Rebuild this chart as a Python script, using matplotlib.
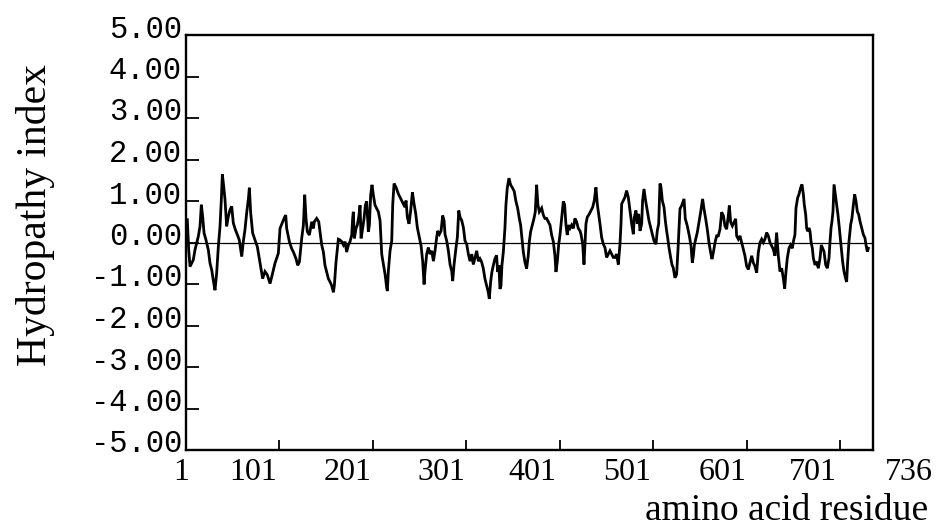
import matplotlib
matplotlib.use("Agg")
import matplotlib.pyplot as plt
from matplotlib.transforms import ScaledTranslation

# ---- data ----
residues = [
    2.4, 3.9, 5.3, 7.1, 8.8, 10.6, 12.4, 14.2, 16.0, 17.4, 18.8, 20.3, 22.4, 24.9, 26.7, 28.5, 30.2, 32.0,
    33.8, 35.6, 37.4, 38.8, 39.9, 41.3, 42.7, 44.5, 46.3, 48.1, 49.9, 51.6, 53.8, 55.9, 58.0, 60.6, 62.3,
    64.1, 65.9, 67.7, 68.8, 70.2, 72.3, 74.8, 77.3, 80.2, 83.0, 85.5, 88.0, 90.9, 92.7, 96.2, 99.8,
    101.6, 105.9, 107.7, 108.7, 111.6, 114.1, 115.9, 118.7, 120.5, 122.3, 123.7, 124.8, 126.6, 128.0, 129.4,
    130.8, 133.0, 135.5, 137.3, 138.3, 140.8, 143.0, 144.4, 146.2, 148.0, 149.7, 151.5, 153.3, 155.1, 156.9,
    158.7, 159.7, 161.5, 162.9, 164.0, 165.8, 167.6, 169.4, 171.1, 172.9, 174.7, 176.5, 178.3, 179.3, 180.0,
    181.1, 182.9, 184.3, 186.1, 187.2, 188.3, 190.0, 191.5, 192.9, 194.3, 196.1, 197.2, 198.6, 200.0, 201.4,
    203.2, 205.0, 206.8,
    208.6, 210.4, 212.2, 214.0, 215.7, 216.4, 217.5, 219.3, 221.1, 222.2, 223.6, 225.7, 228.2, 230.0, 231.8,
    233.6, 235.3, 236.4, 237.8, 239.6, 241.4, 243.2, 245.0, 246.8, 248.5, 250.7, 252.5, 254.2, 255.7, 256.7,
    258.5, 260.3, 262.1, 263.9, 265.7, 267.4, 269.2, 270.3, 272.1, 273.9, 275.6, 277.1, 278.1, 279.9, 281.7,
    283.5, 285.3, 286.3, 287.8, 289.9, 291.3, 292.8, 294.2, 296.0, 297.8, 299.5, 301.3, 303.1, 304.9, 306.7,
    308.4, 310.2, 312.0, 313.8,
    315.5, 317.3, 319.1, 320.8, 322.6, 324.4, 325.5, 326.9, 328.3, 329.8, 331.5, 333.3, 334.4, 335.8, 336.9,
    338.0, 339.0, 340.5, 342.2, 343.3, 344.7, 346.5, 348.3, 350.4, 352.2, 354.0, 355.8, 357.6, 359.0, 360.4,
    361.9, 363.6, 365.4, 367.2, 368.3, 369.7, 371.5, 373.3, 374.7, 376.1, 377.5, 379.0, 381.5, 383.3, 385.0,
    386.8, 388.6, 390.4, 392.2, 394.0, 395.7, 396.8, 398.2, 399.7, 401.1, 402.2, 403.6, 404.7, 406.1, 407.5,
    408.9, 410.0, 411.8, 413.6, 415.4, 417.1, 418.9, 420.7,
    422.5, 423.6, 425.4, 426.8, 427.8, 428.9, 430.3, 432.5, 434.3, 436.1, 437.8, 439.6, 441.0, 442.5, 443.9,
    445.7, 447.5, 449.2, 451.0, 452.8, 454.6, 456.4, 458.2, 459.9, 461.7, 463.5, 465.3, 466.4, 467.1, 468.9,
    470.6, 472.4, 474.2, 476.0, 477.8, 479.6, 480.6, 482.4, 483.8, 485.3, 486.7, 488.5, 489.5, 491.0, 492.7,
    494.5, 496.3, 498.1, 499.9, 501.7, 503.8, 505.2, 506.7, 508.1, 509.2, 510.6, 512.4, 513.8, 515.2, 516.3,
    517.7, 519.5, 520.9, 522.3, 524.1, 525.9, 527.3,
    529.5, 531.3, 533.8, 535.2, 537.3, 539.5, 541.3, 542.7, 543.8, 544.8, 546.3, 548.0, 549.8, 551.6, 553.7,
    555.2, 557.0, 558.7, 560.5, 562.3, 563.7, 565.2, 567.0, 568.7, 570.5, 572.3, 574.1, 575.9, 577.6, 579.4,
    581.2, 582.3, 583.7, 585.5, 587.3, 589.1, 590.1, 591.9, 593.7, 595.5, 597.3, 599.0, 600.8, 602.6, 604.4,
    606.2, 608.0, 609.7, 611.5, 613.3, 615.1, 616.9, 618.7, 620.4, 622.2, 624.0, 625.8, 627.6, 629.3, 631.1,
    632.9, 634.7,
    636.5, 638.3, 640.1, 641.5, 642.9, 644.3, 646.1, 647.9, 649.7, 650.8, 652.5, 653.6, 655.4, 656.8, 658.6,
    660.0, 661.5, 662.5, 664.0, 665.0, 666.1, 667.5, 668.6, 669.7, 671.1, 672.2, 674.0, 675.7, 677.5, 679.3,
    680.7, 682.1, 683.6, 685.4, 687.1, 688.9, 690.0, 691.1, 692.1, 693.2, 694.3, 695.7, 697.1, 698.5, 700.0,
    701.0, 702.5, 703.5, 705.0, 706.7, 707.8, 708.9, 710.3, 712.1, 713.5, 715.0, 716.4, 717.8, 719.2, 720.7,
    722.1, 723.9, 725.7, 727.4, 728.5, 729.9, 731.0,
]

hydropathy = [
    0.55, -0.18, -0.58, -0.50, -0.42, -0.18, -0.02, 0.15, 0.39, 0.91, 0.63, 0.23, 0.06, -0.18, -0.50, -0.66, -0.91, -1.15,
    -0.74, -0.10, 0.39, 1.04, 1.64, 1.36, 1.04, 0.39, 0.63, 0.79, 0.87, 0.47, 0.31, 0.19, 0.06, -0.34, 0.02,
    0.31, 0.71, 1.04, 1.32, 0.71, 0.23, 0.06, -0.10, -0.50, -0.87, -0.70, -0.78, -0.99, -0.83, -0.50, -0.26,
    0.34, 0.58, 0.66, 0.34, 0.02, -0.15, -0.23, -0.39, -0.55, -0.47, -0.15, 0.10, 0.42, 1.15, 0.58,
    0.26, 0.18, 0.50, 0.34, 0.50, 0.58, 0.50, 0.26, -0.06, -0.23, -0.55, -0.71, -0.87, -0.95, -1.04,
    -1.20, -1.04, -0.47, -0.15, 0.08, 0.06, 0.02, -0.06, 0.02, -0.23, -0.06, 0.02, 0.18, 0.58, 0.74,
    0.10, 0.34, 0.42, 0.66, 0.90, 0.10, 0.34, 0.58, 0.90, 0.99, 0.26, 0.42, 1.15, 1.39, 1.15,
    0.90, 0.82, 0.74,
    0.53, -0.28, -0.53, -0.77, -1.09, -1.17, -0.69, -0.20, 0.04, 0.93, 1.42, 1.33, 1.17, 1.09, 1.01,
    0.93, 0.85, 1.01, 0.61, 0.45, 0.77, 1.21, 0.93, 0.69, 0.36, 0.12, -0.08, -0.45, -1.01, -0.69,
    -0.28, -0.12, -0.28, -0.20, -0.45, -0.20, 0.12, 0.28, 0.20, 0.28, 0.65, 0.53, 0.20, 0.04, -0.20,
    -0.53, -0.69, -0.93, -0.53, -0.12, 0.12, 0.77, 0.61, 0.53, 0.36, 0.04, -0.04, -0.28, -0.45, -0.28,
    -0.53, -0.36, -0.20, -0.45,
    -0.39, -0.47, -0.63, -0.87, -1.04, -1.20, -1.36, -0.95, -0.71, -0.55, -0.39, -0.31, -0.71, -0.55, -1.12,
    -1.04, -0.55, -0.23, 0.34, 0.91, 1.31, 1.55, 1.39, 1.31, 1.23, 0.99, 0.83, 0.58, 0.42, 0.10,
    -0.23, -0.47, -0.63, -0.31, 0.02, 0.26, 0.42, 0.58, 0.74, 1.39, 0.91, 0.74, 0.83, 0.66, 0.58,
    0.58, 0.50, 0.42, 0.18, 0.02, -0.31, -0.71, -0.47, -0.06, 0.18, 0.42, 0.74, 0.99, 0.91, 0.42,
    0.18, 0.42, 0.34, 0.42, 0.34, 0.58, 0.50, 0.34,
    0.28, 0.20, -0.04, -0.53, -0.04, 0.45, 0.61, 0.69, 0.77, 0.85, 1.01, 1.33, 0.93, 0.69, 0.45,
    0.12, -0.04, -0.12, -0.36, -0.28, -0.20, -0.28, -0.36, -0.36, -0.28, -0.53, -0.04, 0.45, 0.93, 1.01,
    1.09, 1.25, 1.09, 0.77, 0.45, 0.20, 0.61, 0.77, 0.45, 0.69, 0.28, 0.45, 1.01, 1.29, 1.01,
    0.77, 0.53, 0.36, 0.20, 0.04, -0.04, 0.28, 0.45, 1.42, 1.33, 1.01, 0.85, 0.53, 0.28, 0.12,
    -0.12, -0.36, -0.53, -0.61, -0.85, -0.77, -0.20,
    0.81, 0.89, 1.05, 0.57, 0.40, 0.16, -0.08, -0.49, -0.32, -0.08, 0.08, 0.24, 0.49, 0.73, 1.05,
    0.81, 0.57, 0.32, 0.00, -0.24, -0.40, -0.24, 0.00, 0.16, 0.16, 0.32, 0.73, 0.65, 0.40, 0.32,
    0.65, 0.89, 0.49, 0.40, 0.49, 0.57, 0.16, 0.08, 0.16, 0.00, -0.16, -0.32, -0.57, -0.65, -0.49,
    -0.32, -0.49, -0.57, -0.73, -0.24, 0.00, 0.08, 0.00, 0.08, 0.24, 0.16, 0.00, -0.08, -0.16, -0.32,
    0.24, -0.32,
    -0.70, -0.62, -0.87, -1.11, -0.70, -0.38, -0.14, -0.06, -0.14, 0.02, 0.19, 0.83, 1.08, 1.16, 1.32,
    1.40, 1.16, 0.91, 0.67, 0.35, 0.27, 0.35, 0.27, 0.02, -0.14, -0.38, -0.54, -0.46, -0.62, -0.38,
    -0.06, -0.14, -0.22, -0.54, -0.62, -0.38, 0.02, 0.35, 0.51, 0.75, 1.40, 1.16, 0.91, 0.67, 0.35,
    0.11, -0.22, -0.46, -0.70, -0.87, -0.95, -0.46, 0.02, 0.43, 0.59, 0.91, 1.16, 1.00, 0.75, 0.67,
    0.51, 0.35, 0.19, 0.11, -0.06, -0.22, -0.14,
]

x_ticks = [1, 101, 201, 301, 401, 501, 601, 701, 736]
x_tick_labels = ["1", "101", "201", "301", "401", "501", "601", "701", "736"]
y_ticks = [-5, -4, -3, -2, -1, 0, 1, 2, 3, 4, 5]
y_tick_labels = ["-5.00", "-4.00", "-3.00", "-2.00", "-1.00", "0.00",
                 "1.00", "2.00", "3.00", "4.00", "5.00"]
x_title = "amino acid residue"
y_title = "Hydropathy index"

# ---- figure ----
fig = plt.figure(figsize=(9.36, 5.29), dpi=100)
fig.patch.set_facecolor("white")
ax = fig.add_axes([186 / 936, 1 - 450 / 529, 687 / 936, 415 / 529])

ax.plot(residues, hydropathy, color="black", lw=2.0, solid_joinstyle="miter")
ax.axhline(0, color="black", lw=0.9)

ax.set_xlim(1, 736)
ax.set_ylim(-5, 5)

for s in ax.spines.values():
    s.set_linewidth(1.7)

ax.set_xticks(x_ticks)
ax.set_xticklabels(x_tick_labels, fontfamily="Liberation Serif", fontsize=23)
ax.set_yticks(y_ticks)
ax.set_yticklabels(y_tick_labels, fontfamily="Liberation Mono", fontsize=22)
ax.tick_params(axis="x", direction="in", length=7, width=1.3, pad=6)
ax.tick_params(axis="y", direction="in", length=9, width=1.3, pad=3)

# tick labels in the original sit a little off their ticks
x_offsets_px = [-5, -26, -25, -25, -28, -26, -24, -27, 36]
for lab, dx in zip(ax.get_xticklabels(), x_offsets_px):
    lab.set_transform(lab.get_transform() + ScaledTranslation(dx / 100, 0, fig.dpi_scale_trans))
for lab in ax.get_yticklabels():
    lab.set_transform(lab.get_transform() + ScaledTranslation(0, 9 / 100, fig.dpi_scale_trans))

fig.text(36 / 936, 1 - 215 / 529, y_title, rotation=90, ha="center", va="center",
         fontfamily="Liberation Serif", fontsize=30)
fig.text(928 / 936, 1 - 520 / 529, x_title, ha="right", va="baseline",
         fontfamily="Liberation Serif", fontsize=27)

fig.savefig("out.png", dpi=100, facecolor="white")
